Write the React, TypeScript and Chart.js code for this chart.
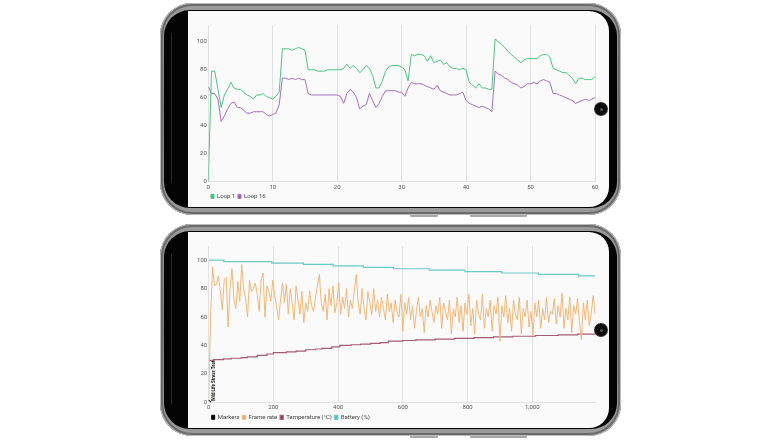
import React, { useEffect, useRef } from 'react';
import { Chart, registerables } from 'chart.js';

Chart.register(...registerables);
Chart.defaults.font.family = 'Roboto';

// ---------- Top chart: loops (x in minutes, sampled every 0.5) ----------
const loopStep = 0.5;
const loopXTicks = [0, 10, 20, 30, 40, 50, 60];
const loop1 = [
  0, 79, 79, 66, 53, 62, 66, 71, 67, 66,
  66, 64, 62, 61, 59, 62, 62, 63, 61, 60,
  59, 61, 64, 95, 95, 95, 94, 95, 96, 95,
  94, 80, 80, 80, 79, 79, 79, 80, 80, 80,
  80, 80, 81, 84, 81, 83, 81, 78, 80, 83,
  81, 76, 67, 67, 72, 79, 82, 83, 83, 83,
  82, 80, 72, 91, 90, 91, 91, 90, 86, 90,
  85, 86, 87, 84, 85, 82, 81, 81, 80, 81,
  80, 71, 69, 67, 70, 67, 67, 66, 66, 102,
  100, 98, 96, 93, 91, 89, 87, 85, 87, 88,
  88, 88, 88, 90, 91, 91, 89, 81, 80, 79,
  78, 78, 76, 74, 70, 74, 74, 73, 73, 73,
  75,
];
const loop16 = [
  68, 63, 63, 59, 43, 47, 52, 56, 57, 53,
  53, 51, 49, 49, 50, 50, 50, 50, 48, 47,
  48, 49, 55, 74, 74, 73, 74, 73, 74, 73,
  73, 63, 62, 62, 62, 62, 62, 62, 62, 62,
  62, 61, 56, 63, 66, 64, 60, 52, 54, 55,
  63, 58, 53, 56, 61, 65, 65, 65, 65, 64,
  64, 61, 67, 71, 70, 70, 70, 69, 68, 67,
  66, 69, 65, 64, 63, 62, 62, 62, 63, 64,
  58, 56, 55, 54, 53, 54, 53, 52, 50, 79,
  77, 76, 74, 73, 71, 70, 69, 67, 68, 70,
  70, 71, 70, 72, 73, 72, 71, 63, 63, 62,
  61, 60, 59, 58, 56, 57, 58, 59, 58, 59,
  60,
];
const loopXMax = 60;
const loopYMax = 112;

// ---------- Bottom chart: stress test (x in seconds) ----------
const fpsStep = 6;
const frameRate = [
  0, 62, 95, 82, 83, 89, 78, 65, 86, 88, 53, 80, 94, 72, 66, 85, 71, 97, 80, 73,
  60, 86, 78, 80, 84, 76, 64, 86, 91, 60, 82, 78, 71, 86, 75, 67, 58, 72, 84, 70,
  83, 62, 80, 70, 58, 82, 72, 62, 78, 56, 70, 64, 78, 68, 64, 74, 82, 90, 70, 64,
  76, 58, 80, 68, 82, 63, 70, 84, 62, 74, 66, 80, 60, 72, 66, 78, 90, 70, 62, 80,
  66, 58, 78, 70, 62, 80, 64, 72, 60, 74, 66, 58, 76, 64, 70, 56, 72, 64, 60, 76,
  50, 70, 62, 74, 58, 68, 52, 64, 74, 60, 66, 49, 68, 60, 72, 64, 56, 68, 62, 74,
  52, 70, 64, 58, 72, 48, 66, 60, 74, 56, 68, 50, 70, 62, 76, 54, 66, 48, 72, 62,
  58, 76, 52, 66, 60, 72, 50, 68, 62, 74, 43, 68, 60, 75, 56, 66, 50, 72, 62, 58,
  74, 48, 66, 60, 72, 53, 64, 47, 70, 60, 72, 52, 66, 58, 74, 56, 64, 62, 73, 55,
  68, 60, 77, 52, 66, 58, 74, 49, 68, 62, 73, 56, 44, 70, 58, 72, 54, 62, 75, 62,
];
const stressXTicks = [0, 200, 400, 600, 800, 1000];
const tempTimes = [0, 15, 45, 70, 100, 120, 150, 180, 200, 240, 270, 300, 330, 350, 380, 405, 440, 470, 500, 530, 555, 600, 640, 700, 760, 820, 880, 940, 1010, 1080, 1140, 1195];
const tempValues = [29.5, 30, 30.5, 31, 31.5, 32, 33, 34, 35, 35.5, 36, 37, 37.5, 38, 39, 40, 40.5, 41, 41.5, 42, 43, 43.5, 44, 44.5, 45, 45.5, 46, 46.5, 47, 47.5, 48, 48];
const batteryTimes = [0, 47, 195, 293, 385, 478, 571, 682, 792, 906, 1019, 1143, 1195];
const batteryValues = [100, 99, 98, 97, 96, 95, 94, 93, 92, 91, 90, 89, 89];
const markerTimes = [0];
const markerValues = [0];
const markerLabels = ['Wild Life Stress Test'];
const stressXMax = 1196;
const stressYMax = 110;
const yTickStep = 20;

const tickFont = { family: 'Roboto', size: 6 };
const tickColor = '#555';
const gridColor = '#e2e2e2';

const markerLabelPlugin = {
  id: 'markerLabel',
  afterDatasetsDraw(chart: any) {
    const xs = chart.scales.x;
    const ys = chart.scales.y;
    const ctx = chart.ctx;
    ctx.save();
    ctx.font = 'bold 5.5px Roboto';
    ctx.fillStyle = '#111';
    markerTimes.forEach((t, i) => {
      const px = xs.getPixelForValue(t) + 4.5;
      const py = ys.getPixelForValue(markerValues[i]) - 1;
      ctx.save();
      ctx.translate(px, py);
      ctx.rotate(-Math.PI / 2);
      ctx.scale(0.8, 1);
      ctx.textBaseline = 'middle';
      ctx.textAlign = 'left';
      ctx.fillText(markerLabels[i], 0, 0);
      ctx.restore();
    });
    ctx.restore();
  },
};

function baseScales(xMax: number, xTicks: number[], yMax: number, yWidth: number) {
  return {
    x: {
      type: 'linear',
      min: 0,
      max: xMax,
      afterFit: (s: any) => { s.height = 9; },
      afterBuildTicks: (s: any) => { s.ticks = xTicks.map((v) => ({ value: v })); },
      ticks: {
        font: tickFont,
        color: tickColor,
        padding: 2,
        maxRotation: 0,
        autoSkip: false,
        callback: (v: any) => Number(v).toLocaleString('en-US'),
      },
      grid: { color: gridColor, lineWidth: 1, drawTicks: false },
      border: { display: true, color: gridColor },
    },
    y: {
      type: 'linear',
      min: 0,
      max: yMax,
      afterFit: (s: any) => { s.width = yWidth; },
      ticks: {
        stepSize: yTickStep,
        includeBounds: false,
        font: tickFont,
        color: tickColor,
        padding: 1.5,
      },
      grid: { display: false, drawTicks: false },
      border: { display: false },
    },
  };
}

function legendOpts(padding: number) {
  return {
    position: 'bottom',
    align: 'start',
    fullSize: false,
    labels: {
      boxWidth: 3,
      boxHeight: 4,
      padding,
      color: '#444',
      font: { family: 'Roboto', size: 6 },
    },
  };
}

function LoopChart() {
  const ref = useRef<HTMLCanvasElement | null>(null);
  useEffect(() => {
    if (!ref.current) return;
    const chart = new Chart(ref.current, {
      type: 'line',
      data: {
        datasets: [
          {
            label: 'Loop 1',
            data: loop1.map((v, i) => ({ x: i * loopStep, y: v })),
            borderColor: '#4cc582',
            backgroundColor: '#2ecc71',
            borderWidth: 1,
            pointRadius: 0,
            tension: 0,
          },
          {
            label: 'Loop 16',
            data: loop16.map((v, i) => ({ x: i * loopStep, y: v })),
            borderColor: '#a56fc0',
            backgroundColor: '#9b59b6',
            borderWidth: 1,
            pointRadius: 0,
            tension: 0,
          },
        ],
      },
      options: {
        responsive: false,
        animation: false,
        layout: { padding: { top: 14, right: 14, left: 0, bottom: 2.6 } },
        scales: baseScales(loopXMax, loopXTicks, loopYMax, 20.3) as any,
        plugins: { legend: legendOpts(2.7) as any, tooltip: { enabled: false } },
      },
    });
    return () => chart.destroy();
  }, []);
  return (
    <canvas
      ref={ref}
      width={421}
      height={201}
      style={{ position: 'absolute', left: 188, top: 11, width: 421, height: 201, zIndex: 2 }}
    />
  );
}

function StressChart() {
  const ref = useRef<HTMLCanvasElement | null>(null);
  useEffect(() => {
    if (!ref.current) return;
    const chart = new Chart(ref.current, {
      type: 'line',
      data: {
        datasets: [
          {
            label: 'Markers',
            data: markerTimes.map((t, i) => ({ x: t, y: markerValues[i] })),
            showLine: false,
            borderColor: '#000',
            backgroundColor: '#000',
            pointBackgroundColor: '#fafafa',
            pointBorderColor: '#000',
            pointBorderWidth: 1,
            borderWidth: 1,
            pointRadius: 1.8,
          },
          {
            label: 'Frame rate',
            data: frameRate.map((v, i) => ({ x: i * fpsStep, y: v })),
            borderColor: '#f4b676',
            backgroundColor: '#f6ab5c',
            borderWidth: 1,
            pointRadius: 0,
            tension: 0,
          },
          {
            label: 'Temperature (°C)',
            data: tempTimes.map((t, i) => ({ x: t, y: tempValues[i] })),
            borderColor: '#a35d72',
            backgroundColor: '#8e3b55',
            borderWidth: 1.2,
            pointRadius: 0,
            stepped: true,
          },
          {
            label: 'Battery (%)',
            data: batteryTimes.map((t, i) => ({ x: t, y: batteryValues[i] })),
            borderColor: '#6ccac6',
            backgroundColor: '#4dbdbd',
            borderWidth: 1.2,
            pointRadius: 0,
            stepped: true,
          },
        ],
      },
      options: {
        responsive: false,
        animation: false,
        layout: { padding: { top: 14, right: 13.3, left: 0, bottom: 2.7 } },
        scales: baseScales(stressXMax, stressXTicks, stressYMax, 20.7) as any,
        plugins: { legend: legendOpts(3) as any, tooltip: { enabled: false } },
      },
      plugins: [markerLabelPlugin],
    });
    return () => chart.destroy();
  }, []);
  return (
    <canvas
      ref={ref}
      width={421}
      height={201}
      style={{ position: 'absolute', left: 188, top: 232, width: 421, height: 201, zIndex: 2 }}
    />
  );
}

function Phone({ top }: { top: number }) {
  return (
    <>
      <div
        style={{
          position: 'absolute', left: 410, top: top + 210, width: 28, height: 4,
          background: '#a8a8a8', borderRadius: 1,
        }}
      />
      <div
        style={{
          position: 'absolute', left: 470, top: top + 210, width: 57, height: 4,
          background: '#a8a8a8', borderRadius: 1,
        }}
      />
      <div
        style={{
          position: 'absolute', left: 160, top, width: 461, height: 212, borderRadius: 32,
          background: 'linear-gradient(180deg,#9c9c9c,#7c7c7c 50%,#9c9c9c)',
          boxShadow: 'inset 0 0 0 1px #bcbcbc, inset 0 0 0 3px #6a6a6a',
        }}
      />
      <div
        style={{
          position: 'absolute', left: 164, top: top + 7, width: 453, height: 198, borderRadius: 26,
          background: '#040404',
        }}
      />
      <div style={{ position: 'absolute', left: 171, top: top + 30, width: 1, height: 150, background: '#2c2c2c' }} />
      <div
        style={{
          position: 'absolute', left: 188, top: top + 8, width: 421, height: 196,
          borderRadius: '0 20px 20px 0', background: '#fafafa',
        }}
      />
    </>
  );
}

function Camera({ cy }: { cy: number }) {
  return (
    <div
      style={{
        position: 'absolute', left: 595, top: cy - 6, width: 12, height: 12, borderRadius: '50%',
        background: '#0a0a0a', boxShadow: '0 0 0 1px #333', zIndex: 3,
        display: 'flex', alignItems: 'center', justifyContent: 'center',
      }}
    >
      <div style={{ width: 3, height: 3, borderRadius: '50%', background: '#555' }} />
    </div>
  );
}

export default function App() {
  return (
    <div style={{ position: 'fixed', left: 0, top: 0, width: 782, height: 440, background: '#fff', overflow: 'hidden' }}>
      <Phone top={3} />
      <Phone top={224} />
      <LoopChart />
      <StressChart />
      <Camera cy={109} />
      <Camera cy={330} />
    </div>
  );
}
